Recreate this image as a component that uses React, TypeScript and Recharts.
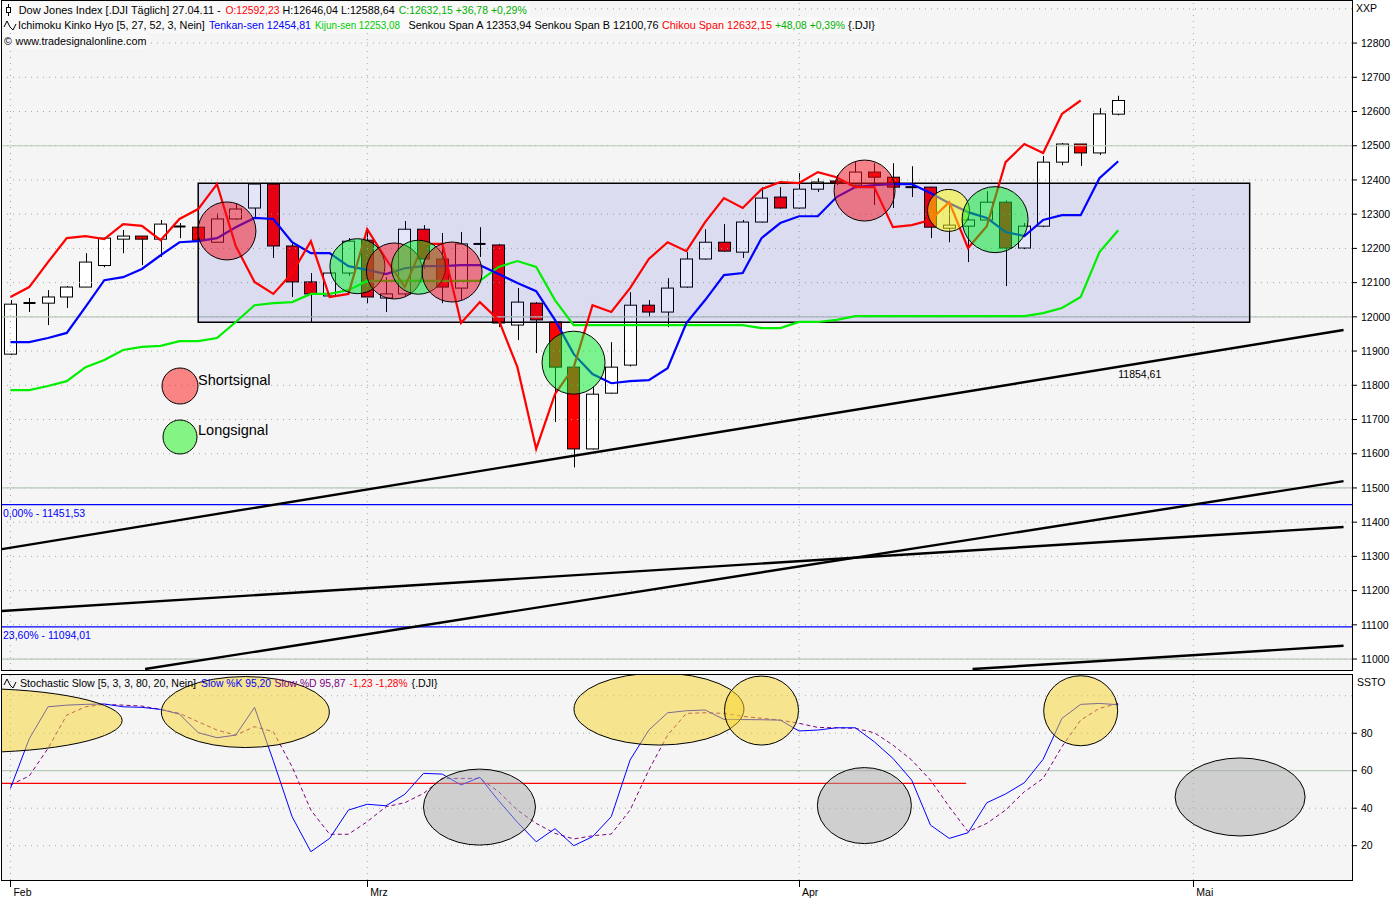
import React from 'react';
import {
  ComposedChart,
  Bar,
  Line,
  XAxis,
  YAxis,
  ReferenceLine,
  ReferenceArea,
  ReferenceDot,
} from 'recharts';

// ---------- data: Dow Jones Index, daily ----------
const tradingDays = [
  '01.02.11', '02.02.11', '03.02.11', '04.02.11', '07.02.11', '08.02.11', '09.02.11', '10.02.11', '11.02.11',
  '14.02.11', '15.02.11', '16.02.11', '17.02.11', '18.02.11', '22.02.11', '23.02.11', '24.02.11', '25.02.11', '28.02.11',
  '01.03.11', '02.03.11', '03.03.11', '04.03.11', '07.03.11', '08.03.11', '09.03.11', '10.03.11', '11.03.11',
  '14.03.11', '15.03.11', '16.03.11', '17.03.11', '18.03.11', '21.03.11', '22.03.11', '23.03.11', '24.03.11', '25.03.11',
  '28.03.11', '29.03.11', '30.03.11', '31.03.11',
  '01.04.11', '04.04.11', '05.04.11', '06.04.11', '07.04.11', '08.04.11', '11.04.11', '12.04.11', '13.04.11', '14.04.11',
  '15.04.11', '18.04.11', '19.04.11', '20.04.11', '21.04.11', '25.04.11', '26.04.11', '27.04.11',
];

const opens = [
  11891, 12040, 12040, 12058, 12087, 12150, 12227, 12236, 12227, 12262,
  12262, 12218, 12286, 12318, 12388, 12207, 12102, 12061, 12128, 12224,
  12055, 12067, 12256, 12169, 12084, 12213, 12210, 11976, 12040, 11985,
  11853, 11614, 11777, 11859, 12034, 12014, 12087, 12169, 12218, 12189,
  12277, 12350, 12318, 12373, 12397, 12385, 12423, 12408, 12379, 12379,
  12259, 12265, 12283, 12335, 12201, 12265, 12452, 12505, 12479, 12592.23,
];
const highs = [
  12049, 12055, 12078, 12090, 12186, 12231, 12254, 12236, 12283, 12274,
  12262, 12303, 12330, 12391, 12390, 12215, 12128, 12135, 12230, 12259,
  12116, 12280, 12268, 12245, 12248, 12262, 12213, 12084, 12043, 11988,
  11860, 11795, 11926, 12072, 12049, 12113, 12189, 12256, 12271, 12283,
  12379, 12379, 12420, 12405, 12414, 12452, 12449, 12449, 12440, 12380,
  12335, 12290, 12367, 12340, 12274, 12470, 12508, 12505, 12610, 12646.04,
];
const lows = [
  11888, 12014, 11976, 12026, 12087, 12145, 12186, 12151, 12175, 12230,
  12224, 12218, 12283, 12292, 12172, 12058, 11982, 12055, 12120, 12040,
  12014, 12060, 12140, 12040, 12050, 12175, 11970, 11932, 11894, 11693,
  11560, 11612, 11775, 11855, 11999, 11970, 12085, 12167, 12190, 12172,
  12275, 12316, 12316, 12365, 12385, 12383, 12327, 12318, 12350, 12230,
  12218, 12160, 12280, 12090, 12198, 12262, 12443, 12441, 12473, 12588.64,
];
const closes = [
  12037, 12041, 12058, 12087, 12160, 12230, 12236, 12227, 12271, 12266,
  12224, 12286, 12315, 12388, 12207, 12102, 12067, 12128, 12221, 12058,
  12067, 12256, 12169, 12087, 12213, 12213, 11982, 12043, 11991, 11853,
  11614, 11774, 11853, 12034, 12014, 12084, 12169, 12218, 12192, 12277,
  12347, 12318, 12373, 12394, 12391, 12423, 12408, 12379, 12379, 12262,
  12268, 12283, 12335, 12201, 12265, 12452, 12505, 12479, 12593, 12632.15,
];

// Ichimoku Kinko Hyo [5, 27, 52, 3]
const tenkanSen = [
  11926, 11926, 11938, 11953, 12029, 12107, 12116, 12140, 12180, 12218,
  12221, 12230, 12262, 12289, 12286, 12218, 12186, 12186, 12148, 12137,
  12125, 12142, 12148, 12148, 12151, 12151, 12125, 12099, 12075, 11991,
  11891, 11833, 11806, 11812, 11815, 11850, 11982, 12049, 12122, 12128,
  12230, 12274, 12294, 12294, 12350, 12379, 12385, 12388, 12388, 12362,
  12332, 12306, 12289, 12248, 12236, 12283, 12297, 12297, 12405, 12454.81,
];
const kijunSen = [
  11786, 11786, 11798, 11812, 11853, 11874, 11903, 11912, 11915, 11929,
  11929, 11938, 11985, 12034, 12040, 12043, 12067, 12067, 12078, 12105,
  12105, 12105, 12105, 12105, 12105, 12105, 12146, 12163, 12146, 12049,
  11976, 11976, 11976, 11976, 11976, 11976, 11976, 11976, 11976, 11976,
  11967, 11967, 11985, 11985, 11991, 12002, 12002, 12002, 12002, 12002,
  12002, 12002, 12002, 12002, 12002, 12011, 12026, 12058, 12189, 12253.08,
];
const chikouSpan = [
  12058, 12087, 12160, 12230, 12236, 12227, 12271, 12266, 12224, 12286,
  12315, 12388, 12207, 12102, 12067, 12128, 12221, 12058, 12067, 12256,
  12169, 12087, 12213, 12213, 11982, 12043, 11991, 11853, 11614, 11774,
  11853, 12034, 12014, 12084, 12169, 12218, 12192, 12277, 12347, 12318,
  12373, 12394, 12391, 12423, 12408, 12379, 12379, 12262, 12268, 12283,
  12335, 12201, 12265, 12452, 12505, 12479, 12593, 12632.15,
];

// Stochastic Slow [5, 3, 3, 80, 20]
const slowK = [
  50.6, 77.0, 94.1, 95.0, 95.4, 95.6, 94.1, 93.8, 92.7, 90.2,
  80.3, 77.6, 79.0, 93.8, 65.3, 35.5, 16.8, 23.9, 39.0, 42.1,
  41.3, 47.4, 58.6, 58.2, 52.4, 56.5, 44.0, 32.5, 22.1, 29.1,
  20.0, 24.8, 35.5, 65.7, 81.7, 90.9, 92.0, 92.4, 87.4, 87.3,
  87.2, 87.0, 81.2, 81.7, 82.9, 82.9, 75.5, 66.6, 55.0, 31.0,
  23.9, 26.9, 42.9, 47.6, 53.6, 66.1, 87.9, 95.4, 95.9, 95.2,
];
const slowD = [
  52.4, 57.2, 71.9, 89.7, 94.1, 95.4, 95.0, 94.5, 92.7, 90.6,
  86.1, 81.7, 79.0, 83.5, 80.8, 62.1, 39.0, 26.1, 26.1, 32.8,
  40.8, 42.9, 47.9, 55.9, 55.9, 55.9, 48.8, 39.0, 31.9, 26.6,
  23.6, 25.3, 26.2, 39.0, 60.4, 79.0, 90.6, 90.9, 90.6, 89.0,
  88.0, 87.0, 85.3, 83.1, 82.9, 82.6, 80.3, 73.7, 65.7, 55.0,
  40.8, 27.5, 31.9, 39.0, 48.8, 55.9, 72.8, 87.0, 93.3, 95.87,
];

// time axis: month starts, counted in trading-day slots
const monthTicks = [0, 19, 42, 63];
const monthLabels = ['Feb', 'Mrz', 'Apr', 'Mai'];

// price axis
const priceTicks = [
  11000, 11100, 11200, 11300, 11400, 11500, 11600, 11700, 11800, 11900,
  12000, 12100, 12200, 12300, 12400, 12500, 12600, 12700, 12800,
];
const priceGrid = [...priceTicks, 12900];
const priceMajor = [11000, 11500, 12000, 12500];

// Fibonacci levels
const fibLevels = [11451.53, 11094.01];
const fibLabels = ['0,00% - 11451,53', '23,60% - 11094,01'];

// trading range box
const rangeBox = { fromDay: 10, toDay: 66, low: 11984, high: 12390 };

// trend lines (day slot, price)
const trendFrom = [
  { day: -0.45, price: 11321.4 },
  { day: -0.45, price: 11140.3 },
  { day: 7.17, price: 10970.8 },
  { day: 51.24, price: 10970.8 },
];
const trendTo = [
  { day: 71.0, price: 11961.4 },
  { day: 71.0, price: 11385.7 },
  { day: 71.0, price: 11520.1 },
  { day: 71.0, price: 11038.9 },
];
const trendMark = { day: 59, price: 11854.61, text: '11854,61' };

// signal markers (day slot, price)
const signalMarks = [
  { kind: 'short', day: 11.53, price: 12251 },
  { kind: 'long', day: 18.48, price: 12148 },
  { kind: 'short', day: 20.45, price: 12134 },
  { kind: 'long', day: 21.73, price: 12145 },
  { kind: 'short', day: 23.52, price: 12131 },
  { kind: 'long', day: 29.99, price: 11866 },
  { kind: 'short', day: 45.49, price: 12369 },
  { kind: 'neutral', day: 49.96, price: 12311 },
  { kind: 'long', day: 52.44, price: 12284 },
];
const signalRadius = [29, 27.5, 28, 27, 30, 31.5, 30.5, 21, 33];

// stochastic zones (day slot, value)
const stoZones = [
  { kind: 'high', day: -2.04, value: 86.8 },
  { kind: 'high', day: 12.51, value: 91.3 },
  { kind: 'low', day: 24.98, value: 40.6 },
  { kind: 'high', day: 34.54, value: 92.9 },
  { kind: 'high', day: 40.0, value: 92.1 },
  { kind: 'low', day: 45.48, value: 41.4 },
  { kind: 'high', day: 57.0, value: 92.0 },
  { kind: 'low', day: 65.49, value: 46.0 },
];
const stoZoneRadius = [
  [150, 32], [84, 35.5], [56, 38], [85, 36], [37, 34.5], [47, 38], [37, 35], [65, 39],
];
const stoSignalLevel = { value: 53.3, toDay: 50.9 };
const stoGrid = [20, 40, 80, 100];
const stoTicks = [20, 40, 60, 80];

const rows = tradingDays.map((date, i) => ({
  s: i,
  date,
  o: opens[i],
  h: highs[i],
  l: lows[i],
  c: closes[i],
  tenkan: tenkanSen[i],
  kijun: kijunSen[i],
  chikou: chikouSpan[i],
  k: slowK[i],
  d: slowD[i],
}));

// ---------- styling ----------
const FONT = '"Liberation Sans", Arial, Helvetica, sans-serif';
const W = 1400;
const MAIN_H = 672;
const STO_TOP = 674;
const STO_H = 226;
const X_DOMAIN: [number, number] = [-0.45, 71.45];
const PRICE_DOMAIN: [number, number] = [10968, 12920];
const STO_DOMAIN: [number, number] = [1.7, 111.6];
const PANEL_BG = '#f5f5f5';
const DOT_GRID = '#9eab9e';
const SOLID_GRID = '#b7c9b7';

const signalFill: Record<string, string> = {
  short: 'rgba(245,15,30,0.5)',
  long: 'rgba(0,240,40,0.5)',
  neutral: 'rgba(255,255,0,0.5)',
};
const zoneFill: Record<string, string> = {
  high: 'rgba(250,212,40,0.5)',
  low: 'rgba(170,170,170,0.5)',
};

const tickStyle = { fontSize: 10.5, fill: '#000', fontFamily: FONT };

// candlestick drawn from the [low, high] bar geometry
const Candle = (props: any) => {
  const { x, y, width, height, payload } = props;
  if (!payload || x == null || y == null) return null;
  const { o, h, l, c } = payload;
  const ppu = h > l ? height / (h - l) : 0;
  const yOf = (v: number) => y + (h - v) * ppu;
  const cx = Math.round(x + width / 2) + 0.5;
  const bx = Math.round(x) + 0.5;
  const bw = Math.round(width) - 1;
  const top = yOf(Math.max(o, c));
  const bot = yOf(Math.min(o, c));
  const cross = Math.abs(o - c) < 5;
  return (
    <g>
      <line x1={cx} x2={cx} y1={y} y2={y + height} stroke="#000" strokeWidth={1} />
      {cross ? (
        <line x1={bx} x2={bx + bw} y1={(top + bot) / 2} y2={(top + bot) / 2} stroke="#000" strokeWidth={2} />
      ) : (
        <rect x={bx} y={top} width={bw} height={Math.max(1, bot - top)} fill={c >= o ? '#ffffff' : '#ff0000'} stroke="#000" strokeWidth={1} />
      )}
    </g>
  );
};

const MonthTick = (props: any) => {
  const { x, y, payload } = props;
  const i = monthTicks.indexOf(payload.value);
  return (
    <g>
      <line x1={Math.round(x) + 0.5} x2={Math.round(x) + 0.5} y1={y + 1} y2={y + 7} stroke="#000" />
      <text x={x + 3} y={y + 16} fontSize={10.5} fontFamily={FONT} fill="#000">
        {monthLabels[i]}
      </text>
    </g>
  );
};

const layer = (top: number): React.CSSProperties => ({ position: 'absolute', left: 0, top });

const hiddenAxes = (domain: [number, number]) => [
  <XAxis key="x" type="number" dataKey="s" domain={X_DOMAIN} allowDataOverflow hide />,
  <YAxis key="y" type="number" domain={domain} allowDataOverflow hide />,
];

type Seg = { x: number; w: number; text: string; color: string };
const headerLine1: Seg[] = [
  { x: 18.7, w: 202, text: 'Dow Jones Index [.DJI  Täglich] 27.04.11 -', color: '#000' },
  { x: 225.4, w: 54, text: 'O:12592,23', color: '#ff0000' },
  { x: 282.6, w: 112, text: 'H:12646,04 L:12588,64', color: '#000' },
  { x: 398.7, w: 128, text: 'C:12632,15 +36,78 +0,29%', color: '#00b000' },
];
const headerLine2: Seg[] = [
  { x: 17.9, w: 187, text: 'Ichimoku Kinko Hyo [5, 27, 52, 3, Nein]', color: '#000' },
  { x: 209, w: 102, text: 'Tenkan-sen 12454,81', color: '#0000ff' },
  { x: 315, w: 85, text: 'Kijun-sen 12253,08', color: '#00cc00' },
  { x: 408.5, w: 250, text: 'Senkou Span A 12353,94 Senkou Span B 12100,76', color: '#000' },
  { x: 662, w: 110, text: 'Chikou Span 12632,15', color: '#ff0000' },
  { x: 775, w: 70, text: '+48,08 +0,39%', color: '#00b000' },
  { x: 848, w: 27, text: '{.DJI}', color: '#000' },
];
const headerSto: Seg[] = [
  { x: 20, w: 176, text: 'Stochastic Slow [5, 3, 3, 80, 20, Nein]', color: '#000' },
  { x: 201, w: 70, text: 'Slow %K 95,20', color: '#0000ff' },
  { x: 274.5, w: 71, text: 'Slow %D 95,87', color: '#800080' },
  { x: 349.5, w: 58, text: '-1,23 -1,28%', color: '#ff0000' },
  { x: 411.6, w: 26, text: '{.DJI}', color: '#000' },
];

const segs = (list: Seg[], y: number) =>
  list.map((s, i) => (
    <text
      key={i}
      x={s.x}
      y={y}
      fill={s.color}
      fontSize={10.8}
      fontFamily={FONT}
      textLength={s.w}
      lengthAdjust="spacingAndGlyphs"
    >
      {s.text}
    </text>
  ));

const WaveIcon = ({ x, y }: { x: number; y: number }) => (
  <polyline
    points={`${x},${y + 4} ${x + 3},${y - 2} ${x + 6},${y + 4} ${x + 9},${y + 7} ${x + 12},${y + 1}`}
    fill="none"
    stroke="#000"
    strokeWidth={1}
  />
);

export default function App() {
  return (
    <div style={{ position: 'absolute', left: 0, top: 0, width: W, height: 900, background: '#fff', overflow: 'hidden' }}>
      {/* panel frames */}
      <div style={{ position: 'absolute', left: 1, top: 0, width: 1352, height: 671, boxSizing: 'border-box', border: '1px solid #000', background: PANEL_BG }} />
      <div style={{ position: 'absolute', left: 1, top: STO_TOP, width: 1352, height: 207, boxSizing: 'border-box', border: '1px solid #000', background: PANEL_BG }} />

      {/* price panel: grid, levels, candles */}
      <div style={layer(0)}>
        <ComposedChart width={W} height={MAIN_H} data={rows} margin={{ top: 2, right: 0, bottom: 2, left: 2 }}>
          <XAxis type="number" dataKey="s" domain={X_DOMAIN} allowDataOverflow hide />
          <YAxis
            orientation="right"
            type="number"
            width={48}
            domain={PRICE_DOMAIN}
            ticks={priceTicks}
            interval={0}
            allowDataOverflow
            axisLine={false}
            tickLine={{ stroke: '#000' }}
            tickSize={5}
            tickMargin={4}
            tick={tickStyle}
          />
          {priceGrid.map((v) => (
            <ReferenceLine key={'g' + v} y={v} stroke={DOT_GRID} strokeDasharray="1 5" />
          ))}
          {priceMajor.map((v) => (
            <ReferenceLine key={'m' + v} y={v} stroke={SOLID_GRID} strokeWidth={1.2} />
          ))}
          {monthTicks.map((v) => (
            <ReferenceLine key={'v' + v} x={v} stroke={DOT_GRID} strokeDasharray="1 5" />
          ))}
          {fibLevels.map((v) => (
            <ReferenceLine key={'f' + v} y={v} stroke="#0000ff" strokeWidth={1.2} />
          ))}
          {fibLevels.map((v, i) => (
            <ReferenceDot
              key={'fl' + v}
              x={X_DOMAIN[0]}
              y={v}
              r={0}
              ifOverflow="visible"
              shape={(p: any) => (
                <text x={p.cx + 1} y={p.cy + 12} fill="#0000ff" fontSize={10.5} fontFamily={FONT}>
                  {fibLabels[i]}
                </text>
              )}
            />
          ))}
          <Bar dataKey={(d: any) => [d.l, d.h]} barSize={13} shape={<Candle />} isAnimationActive={false} />
        </ComposedChart>
      </div>

      {/* price panel: range box, Ichimoku lines, trend lines */}
      <div style={layer(0)}>
        <ComposedChart width={W} height={MAIN_H} data={rows} margin={{ top: 2, right: 48, bottom: 2, left: 2 }}>
          {hiddenAxes(PRICE_DOMAIN)}
          <ReferenceArea
            x1={rangeBox.fromDay}
            x2={rangeBox.toDay}
            y1={rangeBox.low}
            y2={rangeBox.high}
            fill="#0000c8"
            fillOpacity={0.1}
            stroke="#000"
            strokeWidth={1.5}
            ifOverflow="visible"
          />
          <Line dataKey="kijun" stroke="#00ee00" strokeWidth={2.2} dot={false} activeDot={false} isAnimationActive={false} type="linear" />
          <Line dataKey="tenkan" stroke="#0000ff" strokeWidth={2.2} dot={false} activeDot={false} isAnimationActive={false} type="linear" />
          <Line dataKey="chikou" stroke="#ff0000" strokeWidth={2.2} dot={false} activeDot={false} isAnimationActive={false} type="linear" />
          {trendFrom.map((a, i) => (
            <ReferenceLine
              key={'t' + i}
              segment={[
                { x: a.day, y: a.price },
                { x: trendTo[i].day, y: trendTo[i].price },
              ]}
              stroke="#000"
              strokeWidth={2.4}
              ifOverflow="visible"
            />
          ))}
          <ReferenceDot
            x={trendMark.day}
            y={trendMark.price}
            r={0}
            ifOverflow="visible"
            shape={(p: any) => (
              <text x={p.cx} y={p.cy + 11} fill="#000" fontSize={10.5} fontFamily={FONT}>
                {trendMark.text}
              </text>
            )}
          />
        </ComposedChart>
      </div>

      {/* price panel: signal markers */}
      <div style={layer(0)}>
        <ComposedChart width={W} height={MAIN_H} data={rows} margin={{ top: 2, right: 48, bottom: 2, left: 2 }}>
          {hiddenAxes(PRICE_DOMAIN)}
          {signalMarks.map((m, i) => (
            <ReferenceDot
              key={'s' + i}
              x={m.day}
              y={m.price}
              r={signalRadius[i]}
              fill={signalFill[m.kind]}
              stroke="#000"
              strokeWidth={1}
              ifOverflow="visible"
            />
          ))}
        </ComposedChart>
      </div>

      {/* stochastic panel: axes, grid, lines */}
      <div style={layer(STO_TOP)}>
        <ComposedChart width={W} height={STO_H} data={rows} margin={{ top: 0, right: 0, bottom: 0, left: 2 }}>
          <XAxis
            type="number"
            dataKey="s"
            domain={X_DOMAIN}
            allowDataOverflow
            ticks={monthTicks}
            interval={0}
            height={20}
            axisLine={false}
            tickLine={false}
            tickSize={0}
            tickMargin={0}
            tick={<MonthTick />}
          />
          <YAxis
            orientation="right"
            type="number"
            width={48}
            domain={STO_DOMAIN}
            ticks={stoTicks}
            interval={0}
            allowDataOverflow
            axisLine={false}
            tickLine={{ stroke: '#000' }}
            tickSize={5}
            tickMargin={4}
            tick={tickStyle}
          />
          {stoGrid.map((v) => (
            <ReferenceLine key={'sg' + v} y={v} stroke={DOT_GRID} strokeDasharray="1 5" />
          ))}
          <ReferenceLine y={60} stroke={SOLID_GRID} strokeWidth={1.2} />
          {monthTicks.map((v) => (
            <ReferenceLine key={'sv' + v} x={v} stroke={DOT_GRID} strokeDasharray="1 5" />
          ))}
          <ReferenceLine
            segment={[
              { x: X_DOMAIN[0], y: stoSignalLevel.value },
              { x: stoSignalLevel.toDay, y: stoSignalLevel.value },
            ]}
            stroke="#ff0000"
            strokeWidth={1.2}
            ifOverflow="visible"
          />
          <Line dataKey="d" stroke="#800080" strokeWidth={1} strokeDasharray="4 3" dot={false} activeDot={false} isAnimationActive={false} type="linear" />
          <Line dataKey="k" stroke="#0000ff" strokeWidth={1} dot={false} activeDot={false} isAnimationActive={false} type="linear" />
        </ComposedChart>
      </div>

      {/* stochastic panel: zones */}
      <div style={layer(STO_TOP)}>
        <ComposedChart width={W} height={STO_H} data={rows} margin={{ top: 0, right: 48, bottom: 20, left: 2 }}>
          {hiddenAxes(STO_DOMAIN)}
          {stoZones.map((z, i) => (
            <ReferenceDot
              key={'z' + i}
              x={z.day}
              y={z.value}
              r={1}
              ifOverflow="visible"
              shape={(p: any) => (
                <g>
                  <defs>
                    <clipPath id={'zclip' + i}>
                      <rect x={2} y={1} width={1350} height={205} />
                    </clipPath>
                  </defs>
                  <ellipse
                    cx={p.cx}
                    cy={p.cy}
                    rx={stoZoneRadius[i][0]}
                    ry={stoZoneRadius[i][1]}
                    fill={zoneFill[z.kind]}
                    stroke="#000"
                    strokeWidth={1}
                    clipPath={`url(#zclip${i})`}
                  />
                </g>
              )}
            />
          ))}
        </ComposedChart>
      </div>

      {/* headers, legend and axis captions */}
      <svg width={W} height={900} style={{ position: 'absolute', left: 0, top: 0, pointerEvents: 'none' }}>
        <rect x={2} y={2} width={528} height={15} fill="#f9f9f9" />
        <rect x={2} y={17} width={876} height={16} fill="#f9f9f9" />
        <rect x={2} y={34} width={146} height={15} fill="#f9f9f9" />
        {/* candle icon */}
        <line x1={8.5} x2={8.5} y1={4} y2={16} stroke="#000" />
        <rect x={6.5} y={7.5} width={4} height={5} fill="#fff" stroke="#000" />
        {segs(headerLine1, 14)}
        <WaveIcon x={4} y={23} />
        {segs(headerLine2, 29)}
        <text x={4} y={45} fontSize={10.6} fontFamily={FONT} fill="#000">©</text>
        <text x={15.6} y={45} fontSize={10.8} fontFamily={FONT} fill="#000">www.tradesignalonline.com</text>

        <text x={1356} y={12} fontSize={10.5} fontFamily={FONT} fill="#000">XXP</text>
        <text x={1357} y={686} fontSize={10.5} fontFamily={FONT} fill="#000">SSTO</text>

        <WaveIcon x={4} y={681} />
        {segs(headerSto, 687)}

        {/* signal legend */}
        <circle cx={180} cy={386} r={18} fill="rgba(255,20,20,0.5)" stroke="#000" />
        <text x={198} y={384.5} fontSize={14.5} fontFamily={FONT} fill="#000">Shortsignal</text>
        <circle cx={180} cy={437} r={17} fill="rgba(20,245,20,0.5)" stroke="#000" />
        <text x={198} y={434.5} fontSize={14.5} fontFamily={FONT} fill="#000">Longsignal</text>
      </svg>
    </div>
  );
}
